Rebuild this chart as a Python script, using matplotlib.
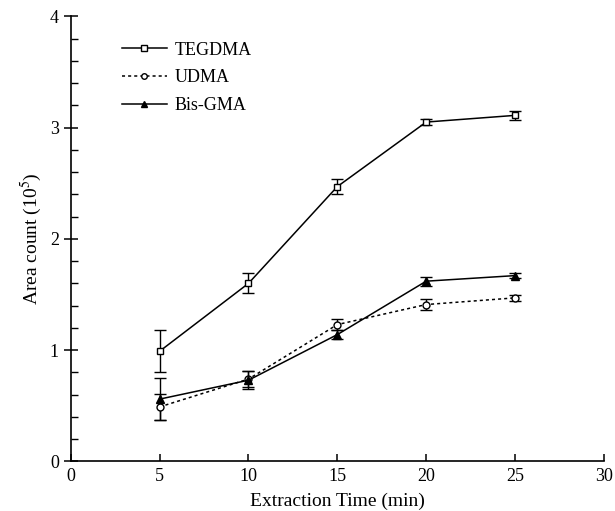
import matplotlib
matplotlib.use("Agg")
import matplotlib.pyplot as plt
from matplotlib.ticker import MultipleLocator

plt.rcParams['font.family'] = ['Liberation Serif', 'DejaVu Serif']
plt.rcParams['mathtext.fontset'] = 'stix'

# extraction time (min)
times = [5, 10, 15, 20, 25]

# area counts (10^5) with error bars
tegdma = [0.99, 1.60, 2.47, 3.05, 3.11]
tegdma_err = [0.19, 0.09, 0.07, 0.03, 0.04]

udma = [0.49, 0.74, 1.23, 1.41, 1.47]
udma_err = [0.12, 0.07, 0.05, 0.05, 0.03]

bisgma = [0.56, 0.73, 1.14, 1.62, 1.67]
bisgma_err = [0.19, 0.08, 0.04, 0.04, 0.02]

fig = plt.figure(figsize=(6.15, 5.11), dpi=100)
ax = fig.add_axes([0.115, 0.097, 0.867, 0.871])

common = dict(color='black', capsize=4, elinewidth=1.0, capthick=1.0, linewidth=1.1)
c1 = ax.errorbar(times, tegdma, yerr=tegdma_err, marker='s', markersize=5,
                 markerfacecolor='white', markeredgewidth=1.0, linestyle='-',
                 label='TEGDMA', **common)
c2 = ax.errorbar(times, udma, yerr=udma_err, marker='o', markersize=5,
                 markerfacecolor='white', markeredgewidth=1.0, linestyle=(0, (2, 2)),
                 label='UDMA', **common)
c3 = ax.errorbar(times, bisgma, yerr=bisgma_err, marker='^', markersize=6,
                 markerfacecolor='black', linestyle='-', label='Bis-GMA', **common)

ax.set_xlim(0, 30)
ax.set_ylim(0, 4)
ax.xaxis.set_major_locator(MultipleLocator(5))
ax.yaxis.set_major_locator(MultipleLocator(1))
ax.yaxis.set_minor_locator(MultipleLocator(0.2))

ax.spines['top'].set_visible(False)
ax.spines['right'].set_visible(False)
for s in ['left', 'bottom']:
    ax.spines[s].set_linewidth(1.2)

ax.tick_params(axis='x', direction='in', length=5, width=1.1, labelsize=13, pad=5)
ax.tick_params(axis='y', which='major', direction='inout', length=10, width=1.1, labelsize=13)
ax.tick_params(axis='y', which='minor', direction='in', length=5, width=1.0)

ax.set_xlabel('Extraction Time (min)', fontsize=14, labelpad=5)
ax.set_ylabel(r'Area count (10$^{5}$)', fontsize=14)

# legend shows only the line + marker, no error bars
handles = [c.lines[0] for c in (c1, c2, c3)]
ax.legend(handles, ['TEGDMA', 'UDMA', 'Bis-GMA'], loc='upper left',
          bbox_to_anchor=(0.065, 0.98), frameon=False, fontsize=13,
          handlelength=2.5, handletextpad=0.45, labelspacing=0.6, markerscale=0.8)

fig.savefig('out.png', dpi=100)
